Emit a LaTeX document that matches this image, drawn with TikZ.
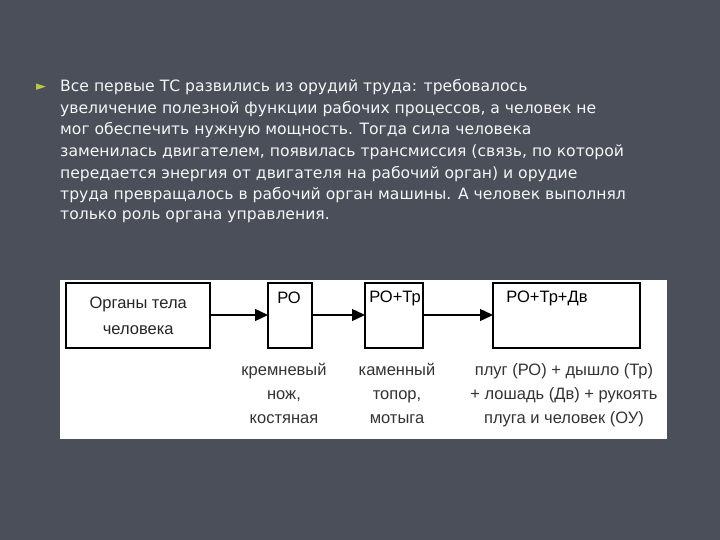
\documentclass[tikz,border=0pt]{standalone}
\usepackage{fontspec}
\setmainfont{Liberation Sans}
\newfontfamily\bodyfont{DejaVu Sans}
\usetikzlibrary{arrows.meta}
\definecolor{bg}{RGB}{74,79,90}
\definecolor{txt}{RGB}{245,245,245}
\definecolor{bull}{RGB}{190,200,70}
\begin{document}
\begin{tikzpicture}[x=1pt,y=-1pt,
  box/.style={draw=black,line width=1.2pt,fill=white,inner sep=0pt},
  lbl/.style={font=\bodyfont\fontsize{15.6}{22}\selectfont,text=txt,anchor=west,inner sep=0pt},
  sub/.style={font=\fontsize{16.5}{24}\selectfont,align=center,text=black!80},
  bt/.style={font=\fontsize{16.5}{15}\selectfont},
  arr/.style={-{Triangle[length=13pt,width=12pt]},line width=1.4pt}]
\fill[bg] (0,0) rectangle (720,540);
\useasboundingbox (0,0) rectangle (720,540);
\node[text=bull,font=\bodyfont\fontsize{13}{13}\selectfont] (bul) at (41,87) {►};
\foreach \t [count=\i] in {Все первые ТС развились из орудий труда: требовалось,
 увеличение полезной функции рабочих процессов{,} а человек не,
 мог обеспечить нужную мощность. Тогда сила человека,
 заменилась двигателем{,} появилась трансмиссия (связь{,} по которой,
 передается энергия от двигателя на рабочий орган) и орудие,
 труда превращалось в рабочий орган машины. А человек выполнял,
 только роль органа управления.}
 \node[lbl] (l\i) at (60,{87+21.7*(\i-1)}) {\t};
\fill[white] (60,280) rectangle (667,439);
\draw[box] (66,283) rectangle (210,348);
\node[minimum width=144pt,minimum height=65pt,font=\fontsize{16.5}{26}\selectfont,align=center,anchor=north west,inner sep=0pt,text=black!85] (b1) at (66,283) {Органы тела\\человека};
\draw[box] (268,283) rectangle (312,348);
\node[minimum width=44pt,minimum height=65pt,anchor=north west,inner sep=0pt] (b2) at (268,283) {};
\node[bt] (t2) at (289,298) {РО};
\draw[box] (365,283) rectangle (423,348);
\node[minimum width=58pt,minimum height=65pt,anchor=north west,inner sep=0pt] (b3) at (365,283) {};
\node[bt] (t3) at (395,298) {РО+Тр};
\draw[box] (493,283) rectangle (640,348);
\node[minimum width=147pt,minimum height=65pt,anchor=north west,inner sep=0pt] (b4) at (493,283) {};
\node[bt] (t4) at (547,298) {РО+Тр+Дв};
\draw[arr] (b1.east|-0,315) -- (b2.west|-0,315);
\draw[arr] (b2.east|-0,315) -- (b3.west|-0,315);
\draw[arr] (b3.east|-0,315) -- (b4.west|-0,315);
\node[sub,anchor=north] (s2) at (284,360) {кремневый\\нож,\\костяная};
\node[sub,anchor=north] (s3) at (397,360) {каменный\\топор,\\мотыга};
\node[sub,anchor=north] (s4) at (564,360) {плуг (РО) + дышло (Тр)\\+ лошадь (Дв) + рукоять\\плуга и человек (ОУ)};
\end{tikzpicture}
\end{document}
